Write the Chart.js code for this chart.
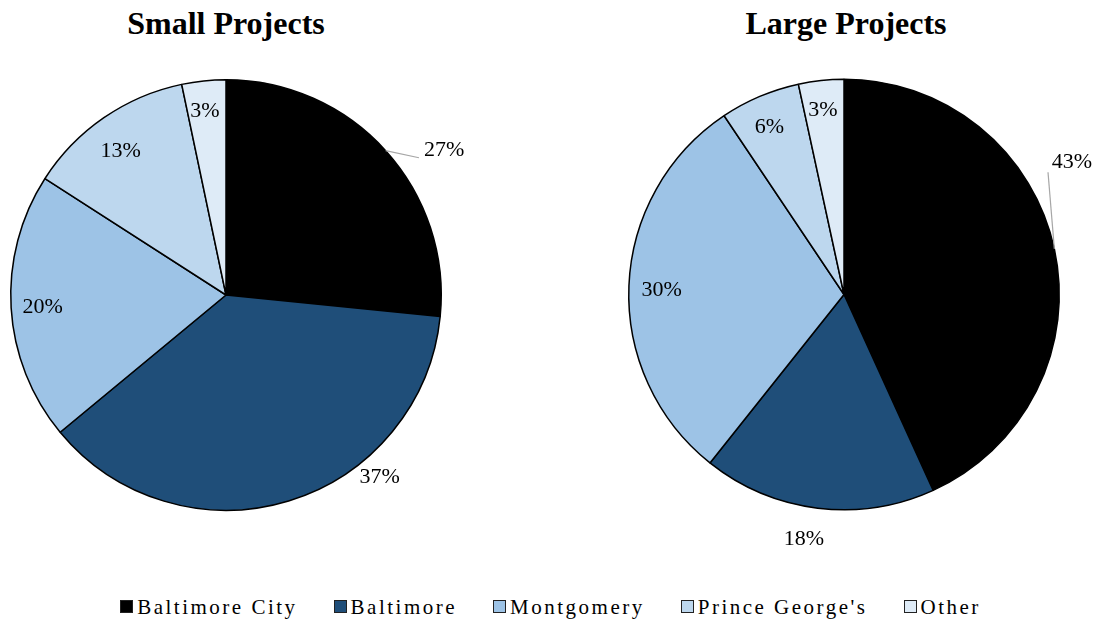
<!DOCTYPE html>
<html>
<head>
<meta charset="utf-8">
<script src="https://cdn.jsdelivr.net/npm/chart.js@4.4.1/dist/chart.umd.min.js"></script>
<style>
  body { margin: 0; background: #fff; }
  #wrap { position: relative; width: 1097px; height: 623px; font-family: "Liberation Serif", "Times New Roman", serif; }
  .title { position: absolute; top: 5px; font-weight: bold; font-size: 32px; text-align: center; }
  canvas { position: absolute; }
  #legend { position: absolute; left: 0; top: 595px; width: 1097px; display: flex; justify-content: center; gap: 36px; font-size: 21px; letter-spacing: 2.5px; padding-left: 4px; box-sizing: border-box; }
  #legend span.sq { display: inline-block; width: 11px; height: 11px; border: 1px solid #222; margin-right: 4px; vertical-align: 1px; }
</style>
</head>
<body>
<div id="wrap">
  <div class="title" style="left:0; width:452px;">Small Projects</div>
  <div class="title" style="left:620px; width:452px;">Large Projects</div>
  <canvas id="smallPie" width="500" height="500" style="left:0; top:60px;"></canvas>
  <canvas id="largePie" width="537" height="500" style="left:560px; top:60px;"></canvas>
  <div id="legend"></div>
</div>
<script>
let categorias = ['Baltimore City', 'Baltimore', 'Montgomery', "Prince George's", 'Other'];
let smallValues = [26.6, 37.4, 20.1, 12.6, 3.3];
let largeValues = [43.2, 17.5, 29.9, 6.0, 3.4];
let colores = ['#000000', '#1f4e79', '#9dc3e6', '#bdd7ee', '#deebf7'];

// ajustes de posicion de etiquetas (grados de desplazamiento, fraccion del radio)
let smallLabelPos = [[8.6, 1.216], [-23.2, 1.107], [-0.3, 0.854], [-1.6, 0.83], [-0.6, 0.86]];
let largeLabelPos = [[-17.9, 1.225], [2.3, 1.151], [-0.9, 0.847], [-1.0, 0.852], [-0.4, 0.86]];

const labelPlugin = {
    id: 'pctLabels',
    afterDatasetsDraw(chart, args, opts) {
        let ctx = chart.ctx;
        let meta = chart.getDatasetMeta(0);
        let values = chart.data.datasets[0].data;
        ctx.save();
        ctx.font = '22px "Liberation Serif", "Times New Roman", serif';
        ctx.fillStyle = '#000';
        ctx.textAlign = 'center';
        ctx.textBaseline = 'middle';
        meta.data.forEach((arc, i) => {
            let p = arc.getProps(['x', 'y', 'startAngle', 'endAngle', 'outerRadius']);
            let mid = (p.startAngle + p.endAngle) / 2;
            let pos = opts.pos[i];
            let ang = mid + pos[0] * Math.PI / 180;
            let lx = p.x + Math.cos(ang) * p.outerRadius * pos[1];
            let ly = p.y + Math.sin(ang) * p.outerRadius * pos[1];
            if (opts.leader && opts.leader[i]) {
                let l = opts.leader[i];
                let la = mid + l[0] * Math.PI / 180;
                ctx.strokeStyle = '#a6a6a6';
                ctx.lineWidth = 1.2;
                ctx.beginPath();
                ctx.moveTo(p.x + Math.cos(mid) * p.outerRadius, p.y + Math.sin(mid) * p.outerRadius);
                ctx.lineTo(p.x + Math.cos(la) * p.outerRadius * l[1], p.y + Math.sin(la) * p.outerRadius * l[1]);
                ctx.stroke();
            }
            ctx.fillText(Math.round(values[i]) + '%', lx, ly);
        });
        ctx.restore();
    }
};

function makePie(id, valores, labelPos, leader, padding) {
    let ctx = document.getElementById(id);
    return new Chart(ctx, {
        type: 'pie',
        data: {
            labels: categorias,
            datasets: [{
                data: valores,
                backgroundColor: colores,
                borderColor: '#000',
                borderWidth: 1.5
            }]
        },
        options: {
            responsive: false,
            animation: false,
            layout: { padding: padding },
            plugins: {
                legend: { display: false },
                tooltip: { enabled: false },
                pctLabels: { pos: labelPos, leader: leader }
            }
        },
        plugins: [labelPlugin]
    });
}

makePie('smallPie', smallValues, smallLabelPos, { 0: [6.7, 1.10] }, { left: 10, right: 58, top: 19, bottom: 49 });
makePie('largePie', largeValues, largeLabelPos, { 0: [-18.7, 1.105] }, { left: 68, right: 37, top: 18.5, bottom: 49.5 });

let legendDiv = document.getElementById('legend');
categorias.forEach((c, i) => {
    let item = document.createElement('div');
    item.innerHTML = `<span class="sq" style="background:${colores[i]}"></span>${c}`;
    legendDiv.appendChild(item);
});
</script>
</body>
</html>
